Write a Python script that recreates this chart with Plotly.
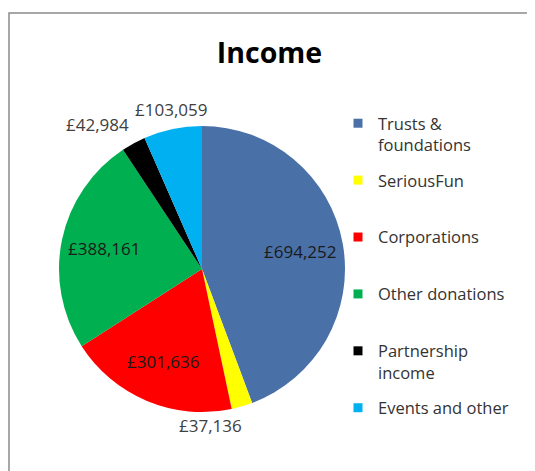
import math
import plotly.graph_objects as go

categories = ["Trusts & foundations", "SeriousFun", "Corporations",
              "Other donations", "Partnership income", "Events and other"]
legend_labels = ["Trusts &<br>foundations", "SeriousFun<br> ", "Corporations<br> ",
                 "Other donations<br> ", "Partnership<br>income", "Events and other<br> "]
values = [694252, 37136, 301636, 388161, 42984, 103059]
colors = ["#4A70A8", "#FFFF00", "#FF0000", "#00B050", "#000000", "#00B0F0"]

# label placement style (inside slice or outside the rim)
label_inside = [True, False, True, True, False, False]

# The page body has an 8px margin, so the figure is drawn 8px in from the window edge
OFF = 8
W, H = 535 - OFF, 471 - OFF
FONT = "Open Sans"

# pie geometry (figure pixels)
CX, CY, R = 202 - OFF, 269 - OFF, 143

fig = go.Figure()

fig.add_trace(go.Pie(
    labels=categories,
    values=values,
    sort=False,
    direction="clockwise",
    rotation=0,
    marker=dict(colors=colors, line=dict(width=0)),
    textinfo="none",
    domain=dict(x=[(CX - R) / W, (CX + R) / W], y=[(H - (CY + R)) / H, (H - (CY - R)) / H]),
    showlegend=False,
    hoverinfo="label+value+percent",
))

# data labels, placed from each slice's mid-angle
total = sum(values)
cum = 0
annotations = []
for v, inside in zip(values, label_inside):
    mid = (cum + v / 2) / total * 2 * math.pi
    cum += v
    s, c = math.sin(mid), math.cos(mid)
    if inside:
        rr = 0.70 * R
        xanchor, yanchor, col = "center", "middle", "#1a1a1a"
    else:
        rr = 1.04 * R
        xanchor = "left" if s > 0.3 else ("right" if s < -0.3 or c < -0.5 else "center")
        yanchor = "bottom" if c > 0.3 else ("top" if c < -0.3 else "middle")
        col = "#404040"
    px, py = CX + rr * s, CY - rr * c
    annotations.append(dict(
        x=px / W, y=1 - py / H, xref="paper", yref="paper",
        text=f"£{v:,}", showarrow=False, xanchor=xanchor, yanchor=yanchor,
        font=dict(family=FONT, size=17, color=col),
    ))

for i, (lab, col) in enumerate(zip(legend_labels, colors)):
    fig.add_trace(go.Scatter(
        x=[None], y=[None], mode="markers",
        marker=dict(symbol="square", size=9, color=col),
        name=lab, legendgroup=f"g{i}", showlegend=True,
    ))

fig.update_layout(
    width=W, height=H,
    margin=dict(l=0, r=0, t=0, b=0),
    paper_bgcolor="white",
    plot_bgcolor="white",
    xaxis=dict(visible=False),
    yaxis=dict(visible=False),
    title=dict(text="<b>Income</b>", x=(269.5 - OFF) / W, xanchor="center",
               y=1 - (53 - OFF) / H, yanchor="middle",
               font=dict(family=FONT, size=28.5, color="#000000")),
    legend=dict(
        x=(338 - OFF) / W, xanchor="left", y=1 - (106 - OFF) / H, yanchor="top",
        font=dict(family=FONT, size=16.5, color="#333333"),
        tracegroupgap=11, valign="top",
        bgcolor="rgba(0,0,0,0)",
    ),
    annotations=annotations,
    shapes=[dict(type="rect", xref="paper", yref="paper",
                 x0=(9 - OFF) / W, x1=(532 - OFF) / W, y0=-0.05, y1=1 - (13 - OFF) / H,
                 line=dict(color="#8a8a8a", width=1.5), fillcolor="rgba(0,0,0,0)")],
)

fig.write_html("out.html")
